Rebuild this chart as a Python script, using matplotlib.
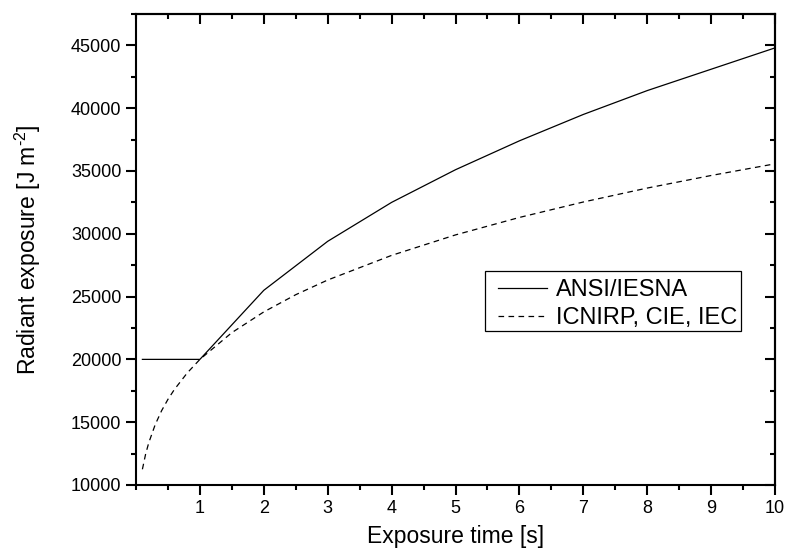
import matplotlib
matplotlib.use('Agg')
import matplotlib.pyplot as plt
from matplotlib.ticker import MultipleLocator
from matplotlib.patches import Rectangle

plt.rcParams['font.family'] = ['Liberation Sans', 'DejaVu Sans']
plt.rcParams['mathtext.fontset'] = 'custom'
plt.rcParams['mathtext.rm'] = 'Liberation Sans'

# ANSI/IESNA limit (piecewise, straight segments between points)
t_ansi = [0.1, 1, 2, 3, 4, 5, 6, 7, 8, 9, 10]
h_ansi = [20000, 20000, 25500, 29400, 32500, 35100, 37400, 39500, 41400, 43100, 44800]

# ICNIRP, CIE, IEC limit (smooth curve)
t_icnirp = [0.1, 0.15, 0.2, 0.3, 0.4, 0.5, 0.6, 0.8, 1, 1.5, 2, 2.5, 3,
            4, 5, 6, 7, 8, 9, 10]
h_icnirp = [11250, 12450, 13370, 14800, 15910, 16820, 17600, 18910, 20000,
            22130, 23780, 25150, 26320, 28280, 29910, 31300, 32530, 33640,
            34640, 35570]

fig = plt.figure(figsize=(7.88, 5.57), dpi=100)
ax = fig.add_axes([0.1726, 0.1293, 0.8109, 0.8456])

ax.plot(t_ansi, h_ansi, color='black', lw=0.9, label='ANSI/IESNA')
ax.plot(t_icnirp, h_icnirp, color='black', lw=0.9, dashes=(4.5, 3.5),
        label='ICNIRP, CIE, IEC')

ax.set_xlim(0, 10)
ax.set_ylim(10000, 47500)
ax.set_xticks(range(1, 11))
ax.xaxis.set_minor_locator(MultipleLocator(0.5))
ax.yaxis.set_major_locator(MultipleLocator(5000))
ax.yaxis.set_minor_locator(MultipleLocator(2500))

for s in ax.spines.values():
    s.set_linewidth(1.5)

ax.tick_params(which='both', direction='out', width=1.5, labelsize=13,
               top=False, right=False)
ax.tick_params(which='major', length=7)
ax.tick_params(which='minor', length=3.6)

# mirrored ticks on top and right, pointing inward
top = ax.secondary_xaxis('top')
top.set_xticks(range(1, 11))
top.xaxis.set_minor_locator(MultipleLocator(0.5))
top.tick_params(which='both', direction='in', width=1.5, labeltop=False)
top.tick_params(which='major', length=7)
top.tick_params(which='minor', length=3.6)
top.spines['top'].set_linewidth(1.5)

right = ax.secondary_yaxis('right')
right.yaxis.set_major_locator(MultipleLocator(5000))
right.yaxis.set_minor_locator(MultipleLocator(2500))
right.tick_params(which='both', direction='in', width=1.5, labelright=False)
right.tick_params(which='major', length=7)
right.tick_params(which='minor', length=3.6)
right.spines['right'].set_linewidth(1.5)

ax.set_xlabel('Exposure time [s]', fontsize=16.5, labelpad=6)
ax.set_ylabel('Radiant exposure [J m$^{\\mathregular{\u20102}}$]', fontsize=16.5,
              labelpad=20)

# legend text without its own frame, box drawn separately
leg = ax.legend(loc='upper left', bbox_to_anchor=(0.566, 0.437), fontsize=17,
                handlelength=2.1, handletextpad=0.35, labelspacing=0.25,
                borderpad=0, borderaxespad=0, frameon=False)
ax.add_patch(Rectangle((0.546, 0.327), 0.401, 0.127, transform=ax.transAxes,
                       fill=False, edgecolor='black', lw=0.9, zorder=5))

fig.savefig('out.png', dpi=100)
